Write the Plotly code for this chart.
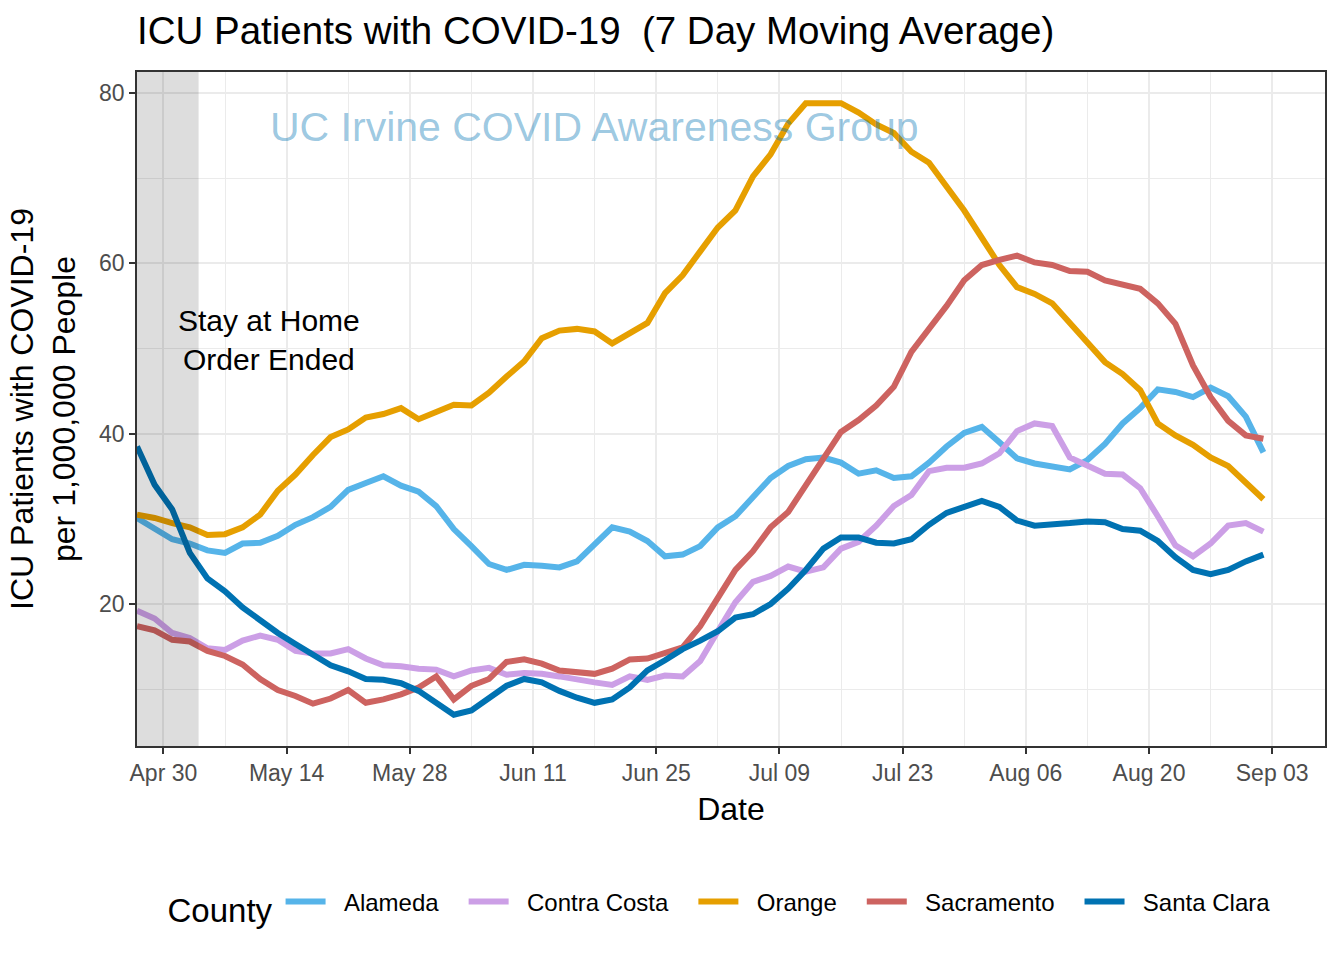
import plotly.graph_objects as go

dates = [
    "2020-04-27", "2020-04-29",
    "2020-05-01", "2020-05-03", "2020-05-05", "2020-05-07", "2020-05-09", "2020-05-11",
    "2020-05-13", "2020-05-15", "2020-05-17", "2020-05-19", "2020-05-21", "2020-05-23",
    "2020-05-25", "2020-05-27", "2020-05-29", "2020-05-31",
    "2020-06-02", "2020-06-04", "2020-06-06", "2020-06-08", "2020-06-10", "2020-06-12",
    "2020-06-14", "2020-06-16", "2020-06-18", "2020-06-20", "2020-06-22", "2020-06-24",
    "2020-06-26", "2020-06-28", "2020-06-30",
    "2020-07-02", "2020-07-04", "2020-07-06", "2020-07-08", "2020-07-10", "2020-07-12",
    "2020-07-14", "2020-07-16", "2020-07-18", "2020-07-20", "2020-07-22", "2020-07-24",
    "2020-07-26", "2020-07-28", "2020-07-30",
    "2020-08-01", "2020-08-03", "2020-08-05", "2020-08-07", "2020-08-09", "2020-08-11",
    "2020-08-13", "2020-08-15", "2020-08-17", "2020-08-19", "2020-08-21", "2020-08-23",
    "2020-08-25", "2020-08-27", "2020-08-29", "2020-08-31",
    "2020-09-02",
]

alameda = [30.1, 28.8, 27.6, 27.1, 26.3, 26.0, 27.1, 27.2, 28.0, 29.3, 30.2, 31.4, 33.4,
           34.2, 35.0, 33.9, 33.2, 31.5, 28.8, 26.8, 24.7, 24.0, 24.6, 24.5, 24.3, 25.0,
           27.0, 29.0, 28.5, 27.4, 25.6, 25.8, 26.8, 29.0, 30.3, 32.5, 34.8, 36.2, 37.0,
           37.2, 36.6, 35.3, 35.7, 34.8, 35.0, 36.6, 38.5, 40.1, 40.8, 39.0, 37.1, 36.5,
           36.1, 35.8, 36.9, 38.8, 41.2, 43.0, 45.2, 44.9, 44.3, 45.4, 44.4, 42.0, 37.8]

contra_costa = [19.2, 18.3, 16.6, 16.0, 14.8, 14.6, 15.7, 16.3, 15.8, 14.5, 14.2, 14.2, 14.7,
                13.6, 12.8, 12.7, 12.4, 12.3, 11.5, 12.2, 12.5, 11.7, 11.9, 11.8, 11.5, 11.1,
                10.8, 10.5, 11.5, 11.1, 11.6, 11.5, 13.3, 16.8, 20.2, 22.6, 23.3, 24.4, 23.8,
                24.3, 26.5, 27.3, 29.2, 31.5, 32.8, 35.6, 36.0, 36.0, 36.5, 37.7, 40.3, 41.2,
                40.9, 37.2, 36.2, 35.3, 35.2, 33.6, 30.3, 26.9, 25.6, 27.1, 29.2, 29.5, 28.5]

orange = [30.5, 30.1, 29.5, 29.0, 28.1, 28.2, 29.0, 30.5, 33.3, 35.2, 37.5, 39.6, 40.5,
          41.9, 42.3, 43.0, 41.7, 42.6, 43.4, 43.3, 44.8, 46.7, 48.5, 51.2, 52.1, 52.3,
          52.0, 50.6, 51.8, 53.0, 56.5, 58.6, 61.4, 64.2, 66.2, 70.2, 72.8, 76.4, 78.8,
          78.8, 78.8, 77.7, 76.3, 75.3, 73.1, 71.8, 69.0, 66.2, 63.0, 59.8, 57.2, 56.4,
          55.3, 53.0, 50.6, 48.4, 47.0, 45.1, 41.2, 39.8, 38.7, 37.2, 36.2, 34.2, 32.3]

sacramento = [17.4, 16.9, 15.8, 15.6, 14.5, 13.9, 12.9, 11.2, 9.9, 9.2, 8.3, 8.9, 9.9,
              8.4, 8.8, 9.4, 10.2, 11.5, 8.8, 10.4, 11.2, 13.2, 13.5, 13.0, 12.2, 12.0,
              11.8, 12.4, 13.5, 13.6, 14.2, 14.9, 17.4, 20.6, 24.0, 26.2, 29.0, 30.8, 33.9,
              37.0, 40.2, 41.6, 43.3, 45.5, 49.6, 52.3, 55.0, 58.0, 59.8, 60.4, 60.9, 60.1,
              59.8, 59.1, 59.0, 58.0, 57.5, 57.0, 55.3, 52.9, 48.0, 44.3, 41.5, 39.8, 39.4]

santa_clara = [38.5, 34.0, 31.1, 26.0, 23.0, 21.5, 19.6, 18.0, 16.6, 15.3, 14.0, 12.8, 12.1,
               11.2, 11.1, 10.7, 9.8, 8.5, 7.0, 7.5, 9.0, 10.4, 11.2, 10.8, 9.8, 9.0,
               8.4, 8.8, 10.2, 12.2, 13.4, 14.7, 15.7, 16.8, 18.4, 18.8, 20.0, 21.8, 24.0,
               26.5, 27.8, 27.8, 27.2, 27.1, 27.6, 29.3, 30.7, 31.4, 32.1, 31.4, 29.8, 29.2,
               29.3, 29.5, 29.7, 29.6, 28.8, 28.6, 27.4, 25.5, 24.0, 23.5, 24.0, 25.0, 25.8]

counties = ["Alameda", "Contra Costa", "Orange", "Sacramento", "Santa Clara"]
series = [alameda, contra_costa, orange, sacramento, santa_clara]
colors = ["#56B4E9", "#CC9FE6", "#E69F00", "#CD6360", "#0072B2"]

for s in series:
    assert len(s) == len(dates)

FONT = "Liberation Sans, Arial, sans-serif"
DAY = 86400000
NB = "\u00a0"

fig = go.Figure()
for name, vals, col in zip(counties, series, colors):
    # legend label padded with non-breaking spaces for spacing
    fig.add_trace(go.Scatter(x=dates, y=vals, mode="lines", name=NB * 2 + name + NB * 3,
                             line=dict(color=col, width=6)))

fig.add_shape(type="rect", xref="x", yref="paper", x0="2020-04-27", x1="2020-05-04",
              y0=0, y1=1, fillcolor="rgba(0,0,0,0.135)", line_width=0, layer="above")

fig.add_annotation(x="2020-05-12", y=51, xref="x", yref="y",
                   text="Stay at Home<br>Order Ended", showarrow=False,
                   font=dict(family=FONT, size=30, color="#000000"), align="center")

fig.add_annotation(x="2020-06-18", y=76, xref="x", yref="y",
                   text="UC Irvine COVID Awareness Group", showarrow=False,
                   font=dict(family=FONT, size=41, color="rgba(0,114,178,0.4)"))

fig.update_layout(
    width=1344, height=960,
    paper_bgcolor="white", plot_bgcolor="white",
    margin=dict(l=137, r=19, t=72, b=214, autoexpand=False),
    font=dict(family=FONT, color="#000000"),
    title=dict(text="ICU Patients with COVID-19  (7 Day Moving Average)",
               x=137 / 1344, xanchor="left", xref="container",
               y=1 - 31 / 960, yanchor="middle", yref="container",
               font=dict(family=FONT, size=38.5, color="#000000")),
    showlegend=True,
    legend=dict(orientation="h", x=0.024, xanchor="left", y=(746 - 906) / 674, yanchor="middle",
                title=dict(text="County", side="left",
                           font=dict(family=FONT, size=33, color="#000000")),
                font=dict(family=FONT, size=24, color="#000000"),
                itemwidth=40, bgcolor="rgba(0,0,0,0)"),
    xaxis=dict(
        type="date", range=["2020-04-27", "2020-09-09"],
        tick0="2020-04-30", dtick=14 * DAY, tickformat="%b %d",
        showgrid=True, gridcolor="#EBEBEB", gridwidth=2,
        minor=dict(showgrid=True, gridcolor="#EBEBEB", gridwidth=1,
                   tick0="2020-04-23", dtick=7 * DAY),
        showline=True, mirror=True, linecolor="#333333", linewidth=1.5,
        ticks="outside", ticklen=6, tickwidth=1.5, tickcolor="#333333",
        tickfont=dict(family=FONT, size=23, color="#4D4D4D"),
        title=dict(text="Date", standoff=12, font=dict(family=FONT, size=32, color="#000000")),
        zeroline=False,
    ),
    yaxis=dict(
        range=[3.33, 82.46], tick0=0, dtick=20,
        showgrid=True, gridcolor="#EBEBEB", gridwidth=2,
        minor=dict(showgrid=True, gridcolor="#EBEBEB", gridwidth=1, tick0=0, dtick=10),
        showline=True, mirror=True, linecolor="#333333", linewidth=1.5,
        ticks="outside", ticklen=6, tickwidth=1.5, tickcolor="#333333",
        tickfont=dict(family=FONT, size=23, color="#4D4D4D"),
        title=dict(text="ICU Patients with COVID-19<br>per 1,000,000 People", standoff=14,
                   font=dict(family=FONT, size=32, color="#000000")),
        zeroline=False,
    ),
)

fig.write_html("out.html")
